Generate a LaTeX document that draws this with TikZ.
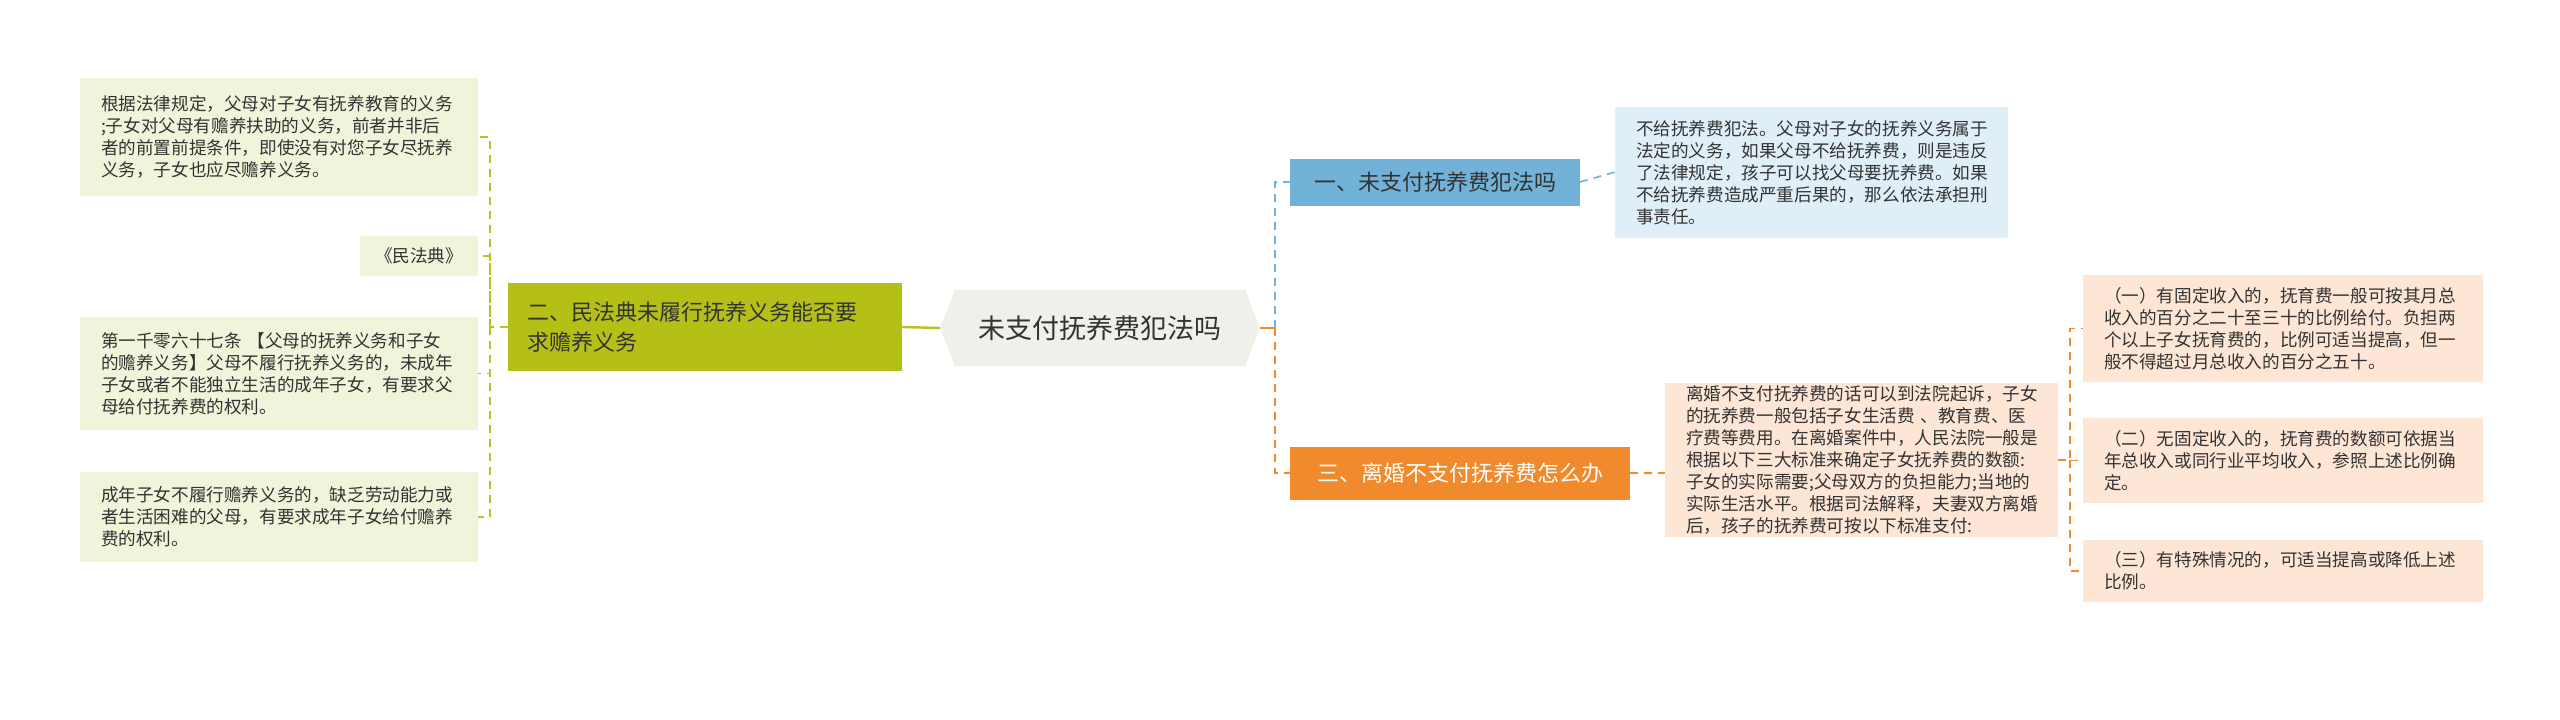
\documentclass[tikz,border=0pt]{standalone}
\usepackage{fontspec}
\setmainfont{Noto Sans CJK SC}
\usetikzlibrary{calc}
\definecolor{olv}{HTML}{B5C017}
\definecolor{olvleaf}{HTML}{F1F4DA}
\definecolor{olvline}{HTML}{B9C31F}
\definecolor{blu}{HTML}{72B2D8}
\definecolor{bluleaf}{HTML}{E0EEF8}
\definecolor{org}{HTML}{F08A2C}
\definecolor{orgleaf}{HTML}{FDE6D6}
\definecolor{cen}{HTML}{EEF0EA}
\definecolor{txt}{HTML}{333333}
\tikzset{
 leaftext/.style={align=left, font=\fontsize{8.8pt}{11pt}\selectfont, text=txt},
 con/.style={dashed, dash pattern=on 4pt off 3pt, line width=0.8pt},
}
\newcommand{\leafbox}[7]{% name, x1,y1,x2,y2, fill, text
  \fill[#6] (#2,#3) rectangle (#4,#5);
  \node[leaftext, anchor=west, text width={(#4-#2)*0.5pt-14pt}] (#1t) at ($(#2,#3)!0.5!(#2,#5)+(7pt,0)$) {#7};
  \coordinate (#1W) at ($(#2,#3)!0.5!(#2,#5)$);
  \coordinate (#1E) at ($(#4,#3)!0.5!(#4,#5)$);
}
\begin{document}
\begin{tikzpicture}[x=0.5pt,y=-0.5pt]
\fill[white] (0,0) rectangle (2560,719);
\useasboundingbox (0,0) rectangle (2560,719);
% left leaves
\leafbox{L1}{80}{78}{478}{196}{olvleaf}{根据法律规定，父母对子女有抚养教育的义务\\;子女对父母有赡养扶助的义务，前者并非后\\者的前置前提条件，即使没有对您子女尽抚养\\义务，子女也应尽赡养义务。}
\fill[olvleaf] (360,236) rectangle (478,276);
\node[leaftext] (L2t) at (419,256) {《民法典》};
\coordinate (L2E) at (478,256);
\leafbox{L3}{80}{317}{478}{430}{olvleaf}{第一千零六十七条 【父母的抚养义务和子女\\的赡养义务】父母不履行抚养义务的，未成年\\子女或者不能独立生活的成年子女，有要求父\\母给付抚养费的权利。}
\leafbox{L4}{80}{472}{478}{562}{olvleaf}{成年子女不履行赡养义务的，缺乏劳动能力或\\者生活困难的父母，有要求成年子女给付赡养\\费的权利。}
% left branch
\fill[olv] (508,283) rectangle (902,371);
\node[align=left, anchor=west, font=\fontsize{11pt}{15pt}\selectfont, text=txt] (B2t) at (520,327) {二、民法典未履行抚养义务能否要\\求赡养义务};
\coordinate (B2W) at (508,327);
\coordinate (B2E) at (902,327);
% center
\fill[cen] (940,328) -- (955,290) -- (1245,290) -- (1260,328) -- (1245,366) -- (955,366) -- cycle;
\node[font=\fontsize{13.5pt}{16pt}\selectfont, text=txt] (C) at (1100,328) {未支付抚养费犯法吗};
\coordinate (CW) at (940,328);
\coordinate (CE) at (1260,328);
% right branch 1
\fill[blu] (1290,159) rectangle (1580,206);
\node[font=\fontsize{11pt}{14pt}\selectfont, text=txt] (B1t) at (1435,182) {一、未支付抚养费犯法吗};
\coordinate (B1W) at (1290,182);
\coordinate (B1E) at (1580,182);
\leafbox{R1}{1615}{107}{2008}{238}{bluleaf}{不给抚养费犯法。父母对子女的抚养义务属于\\法定的义务，如果父母不给抚养费，则是违反\\了法律规定，孩子可以找父母要抚养费。如果\\不给抚养费造成严重后果的，那么依法承担刑\\事责任。}
% right branch 3
\fill[org] (1290,447) rectangle (1630,500);
\node[font=\fontsize{11pt}{14pt}\selectfont, text=white] (B3t) at (1460,473) {三、离婚不支付抚养费怎么办};
\coordinate (B3W) at (1290,473);
\coordinate (B3E) at (1630,473);
\leafbox{R3}{1665}{383}{2058}{537}{orgleaf}{离婚不支付抚养费的话可以到法院起诉，子女\\的抚养费一般包括子女生活费 、教育费、医\\疗费等费用。在离婚案件中，人民法院一般是\\根据以下三大标准来确定子女抚养费的数额:\\子女的实际需要;父母双方的负担能力;当地的\\实际生活水平。根据司法解释，夫妻双方离婚\\后，孩子的抚养费可按以下标准支付:}
\coordinate (R3in) at (1665,473);
\leafbox{S1}{2083}{275}{2483}{382}{orgleaf}{（一）有固定收入的，抚育费一般可按其月总\\收入的百分之二十至三十的比例给付。负担两\\个以上子女抚育费的，比例可适当提高，但一\\般不得超过月总收入的百分之五十。}
\leafbox{S2}{2083}{418}{2483}{503}{orgleaf}{（二）无固定收入的，抚育费的数额可依据当\\年总收入或同行业平均收入，参照上述比例确\\定。}
\leafbox{S3}{2083}{540}{2483}{602}{orgleaf}{（三）有特殊情况的，可适当提高或降低上述\\比例。}
\coordinate (R1in) at (1615,172);
% connectors
\draw[olvline, line width=1.2pt] (B2E) -- (CW);
\draw[olvline, con] (B2W) -- (490,327) |- (L1E);
\draw[olvline, con] (490,327) |- (L2E);
\draw[olvline, con] (490,327) |- (L3E);
\draw[olvline, con] (490,327) |- (L4E);
\draw[org, line width=1.2pt] (CE) -- (1275,328);
\draw[blu, con] (1275,328) |- (B1W);
\draw[org, con] (1275,328) |- (B3W);
\draw[blu, con] (B1E) -- (R1in);
\draw[org, con] (B3E) -- (R3in);
\draw[org, con] (R3E) -- (2070,460) |- (S1W);
\draw[org, con] (2070,460) |- (S2W);
\draw[org, con] (2070,460) |- (S3W);
\end{tikzpicture}
\end{document}
